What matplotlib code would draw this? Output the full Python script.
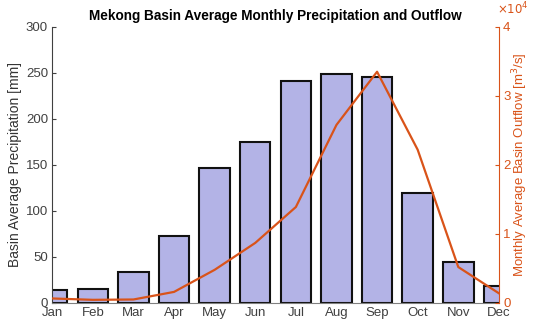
import numpy as np
import matplotlib
matplotlib.use("Agg")
import matplotlib.pyplot as plt
from matplotlib.ticker import FuncFormatter

plt.rcParams['font.family'] = ['Liberation Sans', 'DejaVu Sans']

# monthly data
months = ['Jan', 'Feb', 'Mar', 'Apr', 'May', 'Jun',
          'Jul', 'Aug', 'Sep', 'Oct', 'Nov', 'Dec']
precip_mm = [14, 15, 34, 73, 147, 175, 241, 249, 246, 120, 45, 18]
outflow_m3s = [650, 450, 500, 1600, 4800, 8700, 13900, 25800, 33500, 22200, 5200, 1400]

bar_color = '#b3b3e6'
line_color = '#d95319'
axis_gray = '#404040'

x = np.arange(1, len(months) + 1)

fig = plt.figure(figsize=(5.33, 3.24), dpi=100)
ax = fig.add_axes([0.098, 0.065, 0.838, 0.852])

ax.bar(x, precip_mm, width=0.75, color=bar_color, edgecolor='#111111', linewidth=1.5)
ax.set_xlim(1, 12)
ax.set_ylim(0, 300)
ax.set_xticks(x)
ax.set_xticklabels(months)
ax.set_yticks(np.arange(0, 301, 50))
ax.set_ylabel('Basin Average Precipitation [mm]', fontsize=10, color='#333333', labelpad=3)
ax.set_title('Mekong Basin Average Monthly Precipitation and Outflow',
             fontsize=9.8, fontweight='bold', pad=5)

ax2 = ax.twinx()
ax2.plot(x, outflow_m3s, color=line_color, linewidth=1.6)
ax2.set_ylim(0, 40000)
ax2.set_yticks(np.arange(0, 40001, 10000))
ax2.yaxis.set_major_formatter(FuncFormatter(lambda v, p: '%d' % round(v / 1e4)))
ax2.set_ylabel('Monthly Average Basin Outflow [m$^3$/s]', fontsize=9.5, color=line_color, labelpad=0)
ax2.text(0.995, 1.035, r'$\times10^4$', transform=ax2.transAxes, color=line_color,
         fontsize=8.5, ha='left', va='bottom')

for a in (ax, ax2):
    a.spines['top'].set_visible(False)
    a.tick_params(direction='in', length=3, labelsize=9.5, pad=3)
ax.spines['right'].set_visible(False)
ax.spines['left'].set_color(axis_gray)
ax.spines['bottom'].set_color('#808080')
ax.tick_params(colors=axis_gray, labelcolor='#404040')
ax.tick_params(axis='x', length=0, pad=3)
ax2.spines['left'].set_visible(False)
ax2.spines['bottom'].set_visible(False)
ax2.spines['right'].set_color(line_color)
ax2.tick_params(axis='y', colors=line_color)

fig.savefig('out.png', dpi=100)
